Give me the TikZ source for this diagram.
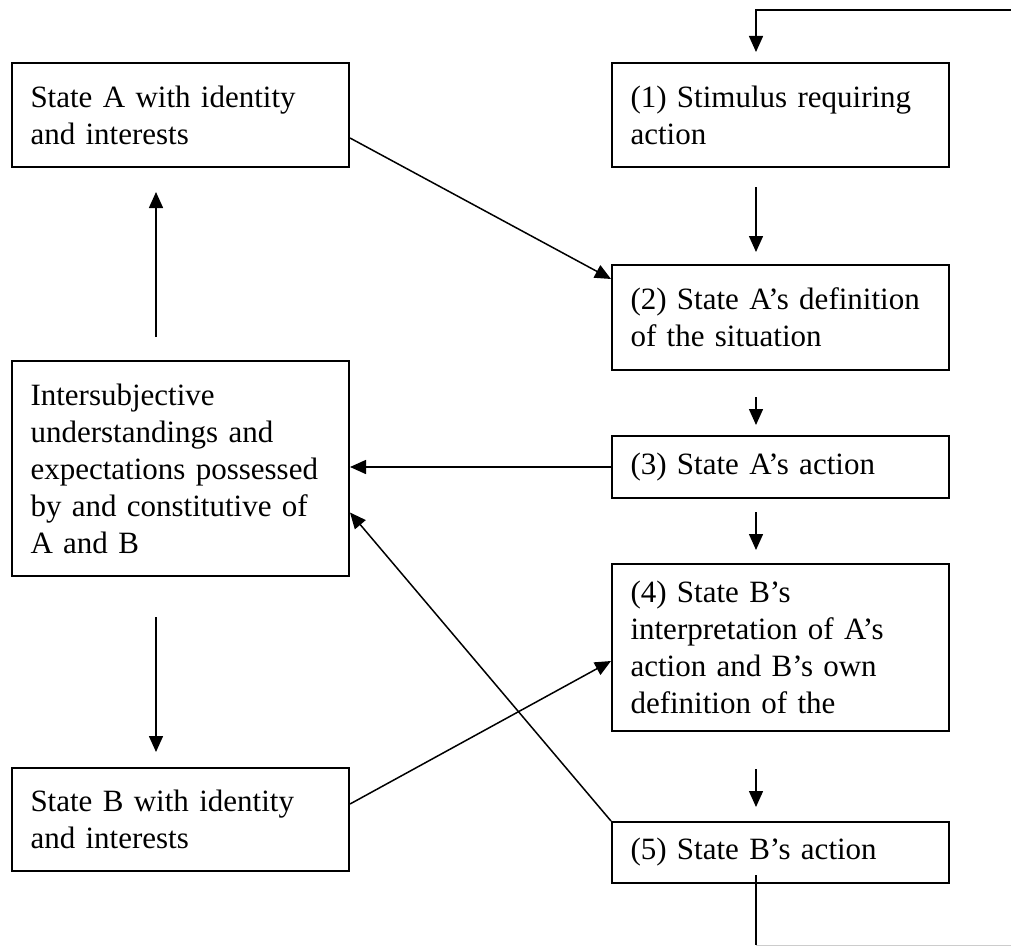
\documentclass[tikz,border=0pt]{standalone}
\usepackage{fontspec}
\setmainfont{Liberation Serif}
\usepackage{tikz}
\usetikzlibrary{arrows.meta, positioning, calc}

\tikzset{
  stagebox/.style={draw, rectangle, line width=2pt, anchor=north west,
                   text width=300pt, inner xsep=18.5pt, inner ysep=6pt,
                   align=left, font=\fontsize{31}{37}\selectfont},
  flow/.style={-{Triangle[length=16pt,width=14pt]}, line width=1.5pt}
}

\begin{document}
\begin{tikzpicture}[x=1pt, y=-1pt]
    \useasboundingbox (0,0) rectangle (1011,947);

    % Left column
    \node[stagebox, minimum height=104pt] (stateA) at (11,62)
        {State A with identity\\ and interests};
    \node[stagebox, minimum height=215pt] (inter) at (11,360)
        {Intersubjective\\ understandings and\\ expectations possessed\\ by and constitutive of\\ A and B};
    \node[stagebox, minimum height=103pt] (stateB) at (11,767)
        {State B with identity\\ and interests};

    % Right column
    \node[stagebox, minimum height=104pt] (stim) at (611,62)
        {(1) Stimulus requiring\\ action};
    \node[stagebox, minimum height=105pt] (defA) at (611,264)
        {(2) State A’s definition\\ of the situation};
    \node[stagebox, minimum height=62pt] (actA) at (611,435)
        {(3) State A’s action};
    \node[stagebox, minimum height=167pt] (interpB) at (611,563)
        {(4) State B’s\\ interpretation of A’s\\ action and B’s own\\ definition of the};
    \node[stagebox, minimum height=61pt] (actB) at (611,821)
        {(5) State B’s action};

    % Loop ends
    \coordinate (loopin) at (1011,10);
    \coordinate (loopout) at (1011,945);

    % Sequence down the right column
    \draw[flow] (loopin) -| ([xshift=-24.5pt,yshift=10pt]stim.north);
    \draw[flow, shorten <=19pt, shorten >=12pt] ([xshift=-24.5pt]stim.south) -- ([xshift=-24.5pt]defA.north);
    \draw[flow, shorten <=26pt, shorten >=10pt] ([xshift=-24.5pt]defA.south) -- ([xshift=-24.5pt]actA.north);
    \draw[flow, shorten <=13pt, shorten >=13pt] ([xshift=-24.5pt]actA.south) -- ([xshift=-24.5pt]interpB.north);
    \draw[flow, shorten <=37pt, shorten >=14pt] ([xshift=-24.5pt]interpB.south) -- ([xshift=-24.5pt]actB.north);
    \draw[line width=1.5pt] ([xshift=-24.5pt,yshift=9pt]actB.south) -- ([xshift=-24.5pt]actB.south |- loopout) coordinate (loopcorner);
    \draw[gray!40, line width=0.8pt] (loopcorner) -- (loopout);

    % Left column links
    \draw[flow, shorten <=23pt, shorten >=24pt] ([xshift=-24.5pt]inter.north) -- ([xshift=-24.5pt]stateA.south);
    \draw[flow, shorten <=40pt, shorten >=15pt] ([xshift=-24.5pt]inter.south) -- ([xshift=-24.5pt]stateB.north);

    % Cross links
    \draw[flow] ([yshift=-23pt]stateA.east) -- ([yshift=-15pt]defA.north west);
    \draw[flow] (actA.west) -- (actA.west -| inter.east);
    \draw[flow] (actB.north west) -- ([yshift=-44pt]inter.east);
    \draw[flow] ([yshift=15.5pt]stateB.east) -- ([yshift=-13.5pt]interpB.west);
\end{tikzpicture}
\end{document}
